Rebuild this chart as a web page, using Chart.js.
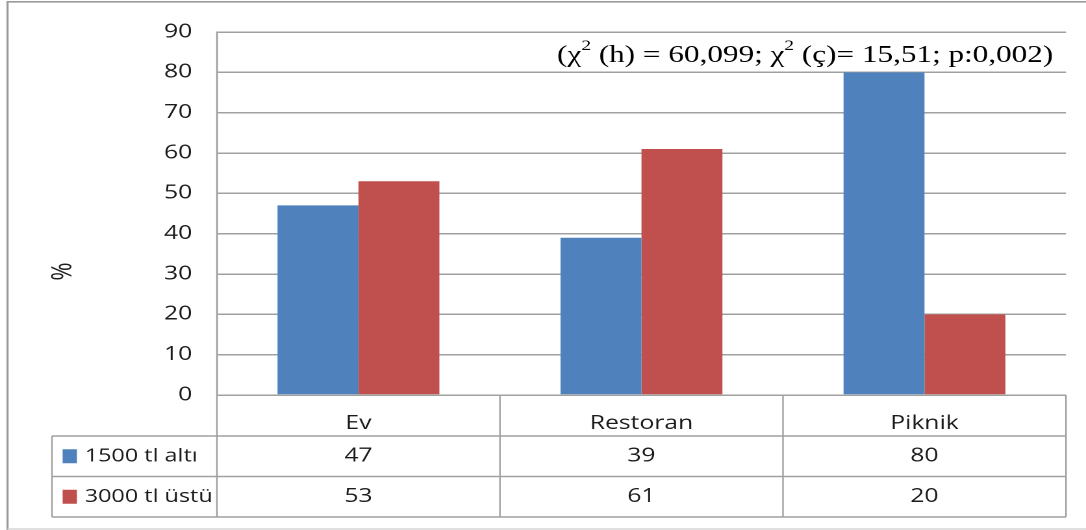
<!DOCTYPE html>
<html><head><meta charset="utf-8">
<script src="https://cdn.jsdelivr.net/npm/chart.js@4.4.0/dist/chart.umd.min.js"></script>
<style>
html,body{margin:0;padding:0;background:#fff;overflow:hidden;}
#wrap{width:1086px;height:530px;overflow:hidden;position:relative;}
#c{display:block;transform:scaleX(1.299043);transform-origin:0 0;}
</style></head>
<body><div id="wrap"><canvas id="c" width="836" height="530"></canvas></div>
<script>
// ---- data ----
const categories = ['Ev', 'Restoran', 'Piknik'];
const seriesNames = ['1500 tl altı', '3000 tl üstü'];
const lowIncome = [47, 39, 80];
const highIncome = [53, 61, 20];
const yMin = 0, yMax = 90, yStep = 10;
const yTitle = '%';
const statParts = [
  {t: '(χ', sup: false}, {t: '2', sup: true}, {t: ' (h) = 60,099; χ', sup: false},
  {t: '2', sup: true}, {t: ' (ç)= 15,51; p:0,002)', sup: false}
];

// ---- styles ----
const blue = '#4F81BD', red = '#C0504D';
const gridColor = '#a0a0a0';
const textColor = '#1c1c1c';
const seriesColors = [blue, red];
const seriesData = [lowIncome, highIncome];

const tablePlugin = {
  id: 'dataTable',
  afterDraw(chart) {
    const ctx = chart.ctx, ca = chart.chartArea, xs = chart.scales.x;
    const rowH = 40.5;
    const y0 = ca.bottom, y1 = xs.bottom, y2 = y1 + rowH, y3 = y1 + 2 * rowH;
    const legendLeft = 40;
    const n = categories.length;
    const bounds = [ca.left];
    for (let i = 0; i < n - 1; i++) bounds.push((xs.getPixelForTick(i) + xs.getPixelForTick(i + 1)) / 2);
    bounds.push(ca.right);

    ctx.save();
    ctx.strokeStyle = gridColor;
    ctx.lineWidth = 1.2;
    ctx.beginPath();
    bounds.forEach((b, i) => { ctx.moveTo(b, i === 0 ? ca.top : y0); ctx.lineTo(b, y3); });
    ctx.moveTo(legendLeft, y1); ctx.lineTo(legendLeft, y3);
    ctx.stroke();
    ctx.lineWidth = 1.5;
    ctx.beginPath();
    [y1, y2, y3].forEach(y => { ctx.moveTo(legendLeft, y); ctx.lineTo(ca.right, y); });
    ctx.stroke();

    // values
    ctx.fillStyle = textColor;
    ctx.font = '19px "Open Sans"';
    ctx.textAlign = 'center';
    ctx.textBaseline = 'middle';
    seriesData.forEach((arr, r) => {
      const yc = y1 + rowH * r + rowH / 2;
      arr.forEach((v, i) => ctx.fillText(String(v), xs.getPixelForTick(i), yc));
    });
    // legend cells
    ctx.textAlign = 'left';
    ctx.font = '18px "Open Sans"';
    seriesNames.forEach((name, r) => {
      const yc = y1 + rowH * r + rowH / 2;
      ctx.fillStyle = seriesColors[r];
      ctx.fillRect(48.2, yc - 7, 11, 14);
      ctx.fillStyle = textColor;
      ctx.fillText(name, 65.2, yc);
    });

    // y title
    ctx.save();
    ctx.translate(48.5, (ca.top + y3) / 2 - 3);
    ctx.rotate(-Math.PI / 2);
    ctx.textAlign = 'center';
    ctx.font = '22px "Open Sans"';
    ctx.fillText(yTitle, 0, 0);
    ctx.restore();

    // stats annotation
    let x = 428.8;
    const base = 62;
    ctx.textAlign = 'left';
    ctx.textBaseline = 'alphabetic';
    ctx.fillStyle = '#000';
    statParts.forEach(p => {
      ctx.font = p.sup ? '15px "Liberation Serif"' : '24px "Liberation Serif"';
      ctx.fillText(p.t, x, p.sup ? base - 12 : base);
      x += ctx.measureText(p.t).width;
    });

    // outer frame
    ctx.strokeStyle = '#9a9a9a';
    ctx.lineWidth = 1.6;
    ctx.beginPath();
    ctx.moveTo(5.8, 530); ctx.lineTo(5.8, 1.8); ctx.lineTo(840, 1.8);
    ctx.stroke();
    ctx.strokeStyle = '#d6d6d6';
    ctx.beginPath();
    ctx.moveTo(5.8, 529); ctx.lineTo(840, 529);
    ctx.stroke();
    ctx.restore();
  }
};

new Chart(document.getElementById('c'), {
  type: 'bar',
  data: {
    labels: categories,
    datasets: seriesNames.map((name, i) => ({
      label: name,
      data: seriesData[i],
      backgroundColor: seriesColors[i],
      categoryPercentage: 0.572,
      barPercentage: 1.0
    }))
  },
  options: {
    responsive: false,
    animation: false,
    devicePixelRatio: 2,
    layout: {padding: {left: 0, top: 32, right: 15.4, bottom: 94}},
    plugins: {legend: {display: false}, tooltip: {enabled: false}},
    scales: {
      x: {
        grid: {display: false},
        border: {display: false},
        ticks: {font: {family: 'Open Sans', size: 19}, color: textColor, padding: 9, maxRotation: 0},
        afterFit(s) { s.height = 41; }
      },
      y: {
        min: yMin, max: yMax,
        ticks: {stepSize: yStep, font: {family: 'Open Sans', size: 19}, color: textColor, padding: 19},
        grid: {color: gridColor, lineWidth: 1.5, drawTicks: false},
        border: {display: true, color: gridColor, width: 1.2},
        afterFit(s) { s.width = 167; }
      }
    }
  },
  plugins: [tablePlugin]
});
</script>
</body></html>
